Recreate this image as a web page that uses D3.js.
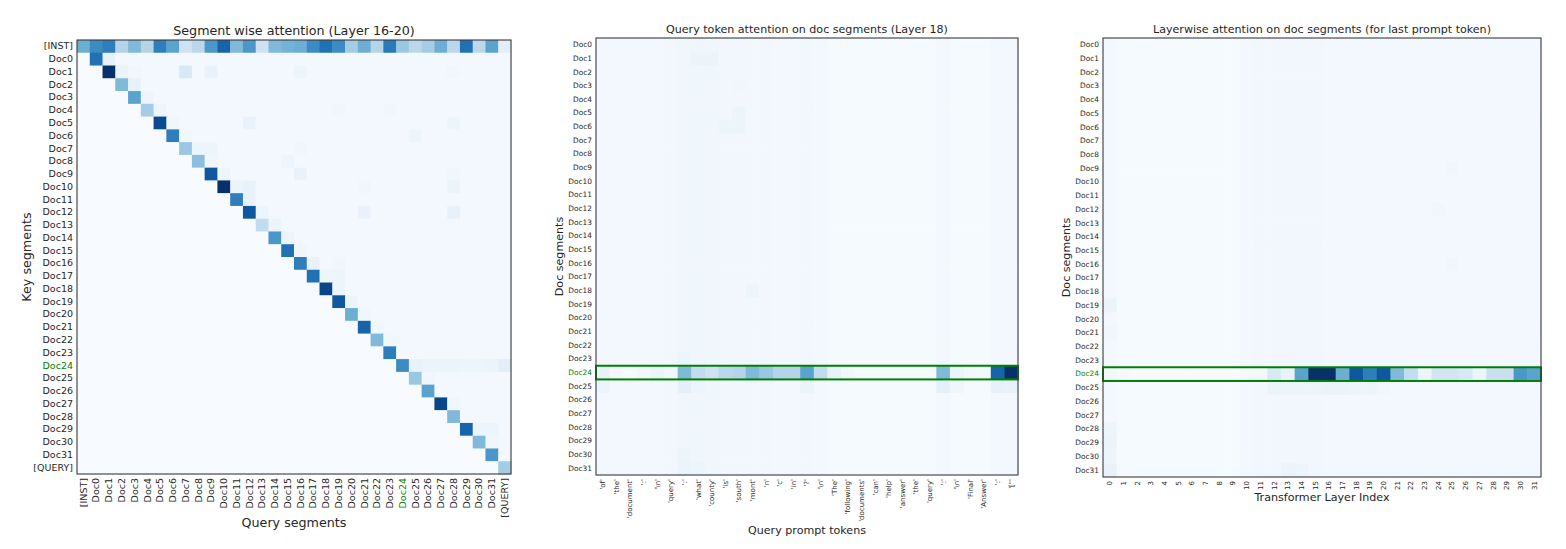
<!DOCTYPE html>
<html><head><meta charset="utf-8">
<script src="https://cdn.jsdelivr.net/npm/d3@7/dist/d3.min.js"></script>
<style>body{margin:0;background:#fff;} text{font-family:"DejaVu Sans",sans-serif;fill:#262626;}</style>
</head><body><svg id="c" width="1566" height="549"></svg>
<script>
// ---------- data ----------
const segLabels = ["[INST]"].concat(d3.range(32).map(i => "Doc" + i)).concat(["[QUERY]"]);
const docLabels = d3.range(32).map(i => "Doc" + i);
const tokenLabels = ["'of'","'the'","'document'","':'","'\\n'","'query'","':'","'what'","'county'","'is'","'south'","'mont'","'n'","'c'","'in'","'?'","'\\n'","'The'","'following'","'documents'","'can'","'help'","'answer'","'the'","'query'","':'","'\\n'","'Final'","'Answer'","':'","'[\"'"];
const layerLabels = d3.range(32).map(String);

// left: segment wise attention
const leftInstRow = [0.50,0.65,0.70,0.30,0.45,0.30,0.70,0.55,0.20,0.28,0.60,0.80,0.45,0.60,0.20,0.45,0.48,0.50,0.65,0.75,0.65,0.35,0.50,0.30,0.72,0.38,0.28,0.35,0.50,0.28,0.75,0.28,0.55,0.10];
const leftDiag = [0.50,0.75,1.00,0.45,0.55,0.35,0.90,0.70,0.38,0.42,0.85,1.00,0.70,0.85,0.25,0.60,0.75,0.70,0.75,0.92,0.85,0.50,0.80,0.45,0.70,0.65,0.38,0.55,0.92,0.45,0.80,0.45,0.60,0.35];
const leftUpperBase = 0.02;
const leftExtra = [[1,2,0.08],[2,3,0.06],[2,4,0.04],[2,8,0.15],[2,10,0.07],[2,17,0.05],[2,29,0.04],[3,4,0.08],[4,5,0.05],
 [5,6,0.05],[5,20,0.04],[5,24,0.04],[6,7,0.04],[6,13,0.07],[6,29,0.05],[7,8,0.04],[7,26,0.05],[8,9,0.05],[8,10,0.05],[8,17,0.04],
 [9,10,0.04],[9,16,0.05],[10,11,0.05],[10,17,0.07],[10,29,0.04],[11,12,0.06],[11,13,0.08],[11,22,0.04],[11,29,0.06],[12,13,0.07],
 [13,14,0.05],[13,22,0.07],[13,29,0.08],[14,15,0.06],[15,16,0.05],[16,17,0.04],[17,18,0.07],[17,20,0.04],[18,19,0.05],[18,20,0.05],
 [19,20,0.05],[20,21,0.05],[21,22,0.04],[22,23,0.04],[23,24,0.03],[25,26,0.08],[25,27,0.06],[25,28,0.06],[25,29,0.06],[25,30,0.05],
 [25,31,0.05],[25,32,0.06],[25,33,0.10],[26,27,0.04],[28,29,0.04],[30,31,0.05],[30,32,0.05],[31,32,0.04]];

// middle: query token attention (layer 18)
const midDoc24 = [0.08,0.02,0.01,0.03,0.06,0.03,0.45,0.25,0.20,0.28,0.30,0.45,0.38,0.30,0.30,0.55,0.25,0.07,0.02,0.01,0.01,0.01,0.01,0.01,0.01,0.45,0.06,0.03,0.02,0.80,1.00];
const midColBase = [0.02,0.02,0.02,0.02,0.02,0.03,0.04,0.04,0.04,0.03,0.03,0.03,0.03,0.02,0.02,0.03,0.02,0.01,0.01,0.01,0.01,0.01,0.01,0.01,0.01,0.02,0.01,0.01,0.01,0.02,0.02];
const midExtra = [[1,7,0.06],[1,8,0.06],[2,8,0.04],[3,7,0.04],[3,10,0.04],[5,10,0.05],[6,9,0.05],[6,10,0.05],[18,11,0.05],
 [25,0,0.05],[25,6,0.09],[25,7,0.05],[25,15,0.06],[25,25,0.09],[25,26,0.04],[25,29,0.08],[25,30,0.07],[23,6,0.05],[30,6,0.05],[31,6,0.06],[31,7,0.05]];

// right: layerwise attention (last prompt token)
const rightDoc24 = [0.03,0.01,0.00,0.00,0.00,0.00,0.00,0.00,0.00,0.00,0.02,0.02,0.15,0.07,0.55,1.00,1.00,0.50,0.85,0.70,0.85,0.45,0.25,0.05,0.18,0.18,0.15,0.05,0.22,0.22,0.60,0.55];
const rightColBase = [0.02,0.01,0.01,0.01,0.01,0.01,0.01,0.01,0.01,0.01,0.02,0.03,0.03,0.03,0.03,0.03,0.02,0.02,0.02,0.02,0.02,0.02,0.02,0.02,0.02,0.02,0.02,0.02,0.02,0.02,0.02,0.02];
const rightExtra = [[25,12,0.06],[25,13,0.05],[25,14,0.05],[25,15,0.05],[25,16,0.06],[25,17,0.06],[25,18,0.05],[25,19,0.05],[25,20,0.04],
 [19,0,0.06],[21,0,0.04],[28,0,0.05],[29,0,0.06],[30,0,0.05],[31,0,0.07],[31,13,0.06],[31,14,0.05],[9,25,0.04],[16,25,0.04],[12,24,0.04]];

// ---------- build matrices ----------
function buildLeft() {
  const n = segLabels.length, m = [];
  for (let r = 0; r < n; r++) { m.push([]); for (let c = 0; c < n; c++) {
    let v = 0;
    if (c >= r) v = r === 0 ? leftInstRow[c] : (r === c ? leftDiag[r] : leftUpperBase);
    m[r].push(v);
  } }
  leftExtra.forEach(([r, c, v]) => m[r][c] = v);
  return m;
}
function buildBand(nRows, colBase, hiRow, hiVals, extra) {
  const m = d3.range(nRows).map(r => colBase.slice());
  m[hiRow] = hiVals.slice();
  extra.forEach(([r, c, v]) => m[r][c] = v);
  return m;
}

const svg = d3.select("#c");
const color = d3.scaleSequential(d3.interpolateBlues).domain([0, 1]);

function heatmap(o) {
  const g = svg.append("g");
  const x = d3.scaleBand().domain(d3.range(o.cols.length)).range([o.x0, o.x1]);
  const y = d3.scaleBand().domain(d3.range(o.rows.length)).range([o.y0, o.y1]);
  const cells = [];
  o.data.forEach((row, r) => row.forEach((v, c) => cells.push({r, c, v})));
  g.selectAll("rect.cell").data(cells).join("rect").attr("class", "cell")
    .attr("x", d => x(d.c)).attr("y", d => y(d.r))
    .attr("width", x.bandwidth() + 0.5).attr("height", y.bandwidth() + 0.5)
    .attr("fill", d => color(d.v));
  // axes
  const ya = g.append("g").attr("transform", `translate(${o.x0},0)`)
    .call(d3.axisLeft(y).tickSize(0).tickPadding(4).tickFormat(i => o.rows[i]));
  ya.select(".domain").remove();
  ya.selectAll("text").style("font-size", o.tickFs + "px")
    .style("fill", i => o.rows[i] === "Doc24" ? "green" : "#262626");
  const xa = g.append("g").attr("transform", `translate(0,${o.y1})`)
    .call(d3.axisBottom(x).tickSize(0).tickFormat(i => o.cols[i]));
  xa.select(".domain").remove();
  xa.selectAll("text").style("font-size", o.xTickFs + "px")
    .attr("transform", "rotate(-90)").attr("text-anchor", "end")
    .attr("x", -4).attr("y", 0).attr("dy", "0.35em")
    .style("fill", i => o.cols[i] === "Doc24" ? "green" : "#262626");
  // highlight box
  if (o.box !== undefined) {
    g.append("rect").attr("x", o.x0).attr("y", y(o.box)).attr("width", o.x1 - o.x0).attr("height", y.bandwidth())
      .attr("fill", "none").attr("stroke", "green").attr("stroke-width", 2);
  }
  // frame
  g.append("rect").attr("x", o.x0).attr("y", o.y0).attr("width", o.x1 - o.x0).attr("height", o.y1 - o.y0)
    .attr("fill", "none").attr("stroke", "#3a3a3a").attr("stroke-width", 1.1);
  // titles
  const cx = (o.x0 + o.x1) / 2;
  g.append("text").attr("x", cx).attr("y", o.titleY).attr("text-anchor", "middle").style("font-size", o.titleFs + "px").text(o.title);
  g.append("text").attr("x", cx).attr("y", o.xLabelY).attr("text-anchor", "middle").style("font-size", o.labelFs + "px").text(o.xLabel);
  g.append("text").attr("transform", `translate(${o.yLabelX},${(o.y0 + o.y1) / 2}) rotate(-90)`).attr("text-anchor", "middle")
    .attr("dy", "0.35em").style("font-size", o.labelFs + "px").text(o.yLabel);
}

heatmap({data: buildLeft(), rows: segLabels, cols: segLabels, x0: 77, x1: 511, y0: 40, y1: 474,
  tickFs: 9.5, xTickFs: 9.5, title: "Segment wise attention (Layer 16-20)", titleY: 35, titleFs: 12.7,
  xLabel: "Query segments", xLabelY: 527, yLabel: "Key segments", yLabelX: 27, labelFs: 12.7});

heatmap({data: buildBand(32, midColBase, 24, midDoc24, midExtra), rows: docLabels, cols: tokenLabels,
  x0: 596, x1: 1018, y0: 38, y1: 475, tickFs: 7.4, xTickFs: 7, box: 24,
  title: "Query token attention on doc segments (Layer 18)", titleY: 33, titleFs: 11.1,
  xLabel: "Query prompt tokens", xLabelY: 534, yLabel: "Doc segments", yLabelX: 559, labelFs: 11.1});

heatmap({data: buildBand(32, rightColBase, 24, rightDoc24, rightExtra), rows: docLabels, cols: layerLabels,
  x0: 1103, x1: 1541, y0: 38, y1: 477, tickFs: 7.4, xTickFs: 7, box: 24,
  title: "Layerwise attention on doc segments (for last prompt token)", titleY: 33, titleFs: 11.1,
  xLabel: "Transformer Layer Index", xLabelY: 501, yLabel: "Doc segments", yLabelX: 1066, labelFs: 11.1});
</script></body></html>
